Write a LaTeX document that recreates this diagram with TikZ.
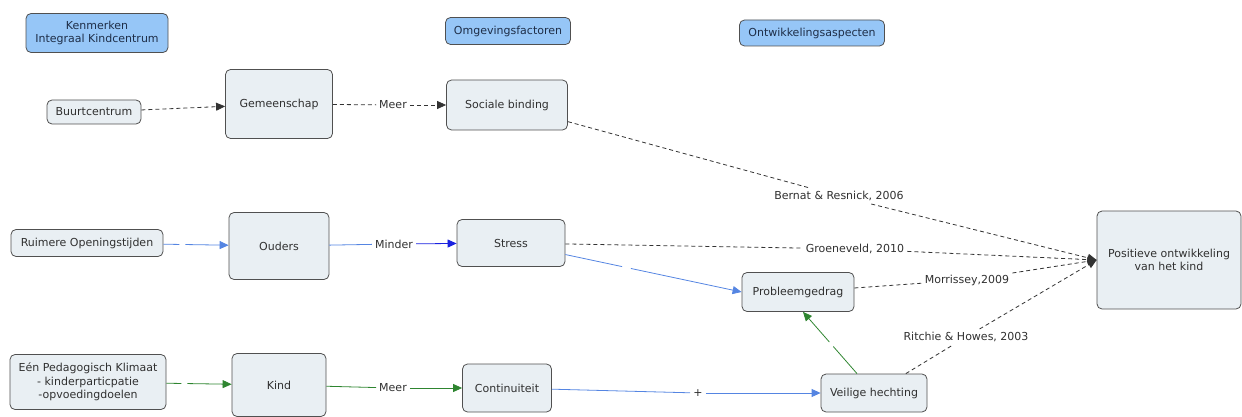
\documentclass[tikz,border=0pt]{standalone}
\usepackage{fontspec}
\setmainfont{DejaVu Sans}
\usetikzlibrary{arrows.meta,positioning}
\definecolor{conceptfill}{HTML}{E9EFF3}
\definecolor{headfill}{HTML}{96C6F7}
\definecolor{bordergray}{HTML}{505050}
\definecolor{textgray}{HTML}{303030}
\definecolor{headtext}{HTML}{1E2E48}
\definecolor{lineblue}{HTML}{5585E2}
\definecolor{darkblue}{HTML}{1A22E0}
\definecolor{linegreen}{HTML}{2E8530}

\begin{document}
\begin{tikzpicture}[x=1pt,y=-1pt,
	every node/.style={font=\fontsize{11}{13.5}\selectfont, text=textgray, align=center},
	concept/.style={draw=bordergray, fill=conceptfill, rounded corners=5pt, line width=0.8pt, inner sep=0pt},
	header/.style={concept, fill=headfill, text=headtext},
	link/.style={inner sep=3pt},
	tip/.style={-{Triangle[length=9pt,width=8pt]}},
	blackdash/.style={line width=0.8pt, black!80, dash pattern=on 4pt off 3pt},
	blueline/.style={line width=0.8pt, lineblue},
	greenline/.style={line width=0.8pt, linegreen}]
		\useasboundingbox (0,0) rectangle (1242,417);
		\node[header, minimum width=142pt, minimum height=39pt] (kenm) at (97,33) {Kenmerken\\Integraal Kindcentrum};
		\node[header, minimum width=125pt, minimum height=27pt] (omg) at (508,31) {Omgevingsfactoren};
		\node[header, minimum width=145pt, minimum height=26pt] (ontw) at (812,33) {Ontwikkelingsaspecten};
		\node[concept, minimum width=94pt, minimum height=24pt] (buurt) at (94,112) {Buurtcentrum};
		\node[concept, minimum width=107pt, minimum height=69pt] (gem) at (279,104) {Gemeenschap};
		\node[concept, minimum width=121pt, minimum height=50pt] (soc) at (507,105) {Sociale binding};
		\node[concept, minimum width=152pt, minimum height=27pt] (ruim) at (87,243) {Ruimere Openingstijden};
		\node[concept, minimum width=100pt, minimum height=67pt] (ouders) at (279,246) {Ouders};
		\node[concept, minimum width=108pt, minimum height=47pt] (stress) at (511,243) {Stress};
		\node[concept, minimum width=112pt, minimum height=39pt] (prob) at (798,292) {Probleemgedrag};
		\node[concept, minimum width=144pt, minimum height=98pt] (pos) at (1169,260) {Positieve ontwikkeling\\van het kind};
		\node[concept, minimum width=156pt, minimum height=55pt] (een) at (88,382) {Eén Pedagogisch Klimaat\\- kinderparticpatie\\-opvoedingdoelen};
		\node[concept, minimum width=94pt, minimum height=63pt] (kind) at (279,385) {Kind};
		\node[concept, minimum width=89pt, minimum height=48pt] (cont) at (507,388) {Continuiteit};
		\node[concept, minimum width=106pt, minimum height=38pt] (veil) at (874,393) {Veilige hechting};
		\node[link] (meer1) at (393,105) {Meer};
		\node[link] (minder) at (394,244) {Minder};
		\node[link] (meer2) at (393,388) {Meer};
		\node[link] (plus) at (698,393) {+};
		\node[link] (bernat) at (839,196) {Bernat \& Resnick, 2006};
		\node[link] (groen) at (855,249) {Groeneveld, 2010};
		\node[link] (morr) at (967,280) {Morrissey,2009};
		\node[link] (ritchie) at (966,337) {Ritchie \& Howes, 2003};
		\draw[blackdash, tip] (buurt)--(gem);
		\draw[blackdash] (gem)--(meer1);
		\draw[blackdash, tip] (meer1)--(soc);
		\draw[blackdash] (soc)--(bernat);
		\draw[blackdash, tip] (bernat)--(pos.west);
		\draw[blackdash] (stress)--(groen);
		\draw[blackdash, tip] (groen)--(pos.west);
		\draw[blackdash] (prob)--(morr);
		\draw[blackdash, tip] (morr)--(pos.west);
		\draw[blackdash] (veil)--(ritchie);
		\draw[blackdash, tip] (ritchie)--(pos.west);
		\draw[blueline, tip, dash pattern=on 16pt off 6pt on 300pt] (ruim)--(ouders);
		\draw[blueline] (ouders)--(minder);
		\draw[blueline, darkblue, tip] (minder)--(stress);
		\draw[blueline, tip, dash pattern=on 58pt off 9pt on 300pt] (stress)--(prob.west);
		\draw[blueline] (cont)--(plus);
		\draw[blueline, tip] (plus)--(veil);
		\draw[greenline, tip, dash pattern=on 15pt off 6pt on 300pt] (een)--(kind);
		\draw[greenline] (kind)--(meer2);
		\draw[greenline, tip] (meer2)--(cont);
		\draw[greenline, tip, dash pattern=on 36pt off 6pt on 300pt] ([xshift=-17pt]veil.north)--([xshift=5pt]prob.south);
\end{tikzpicture}
\end{document}
